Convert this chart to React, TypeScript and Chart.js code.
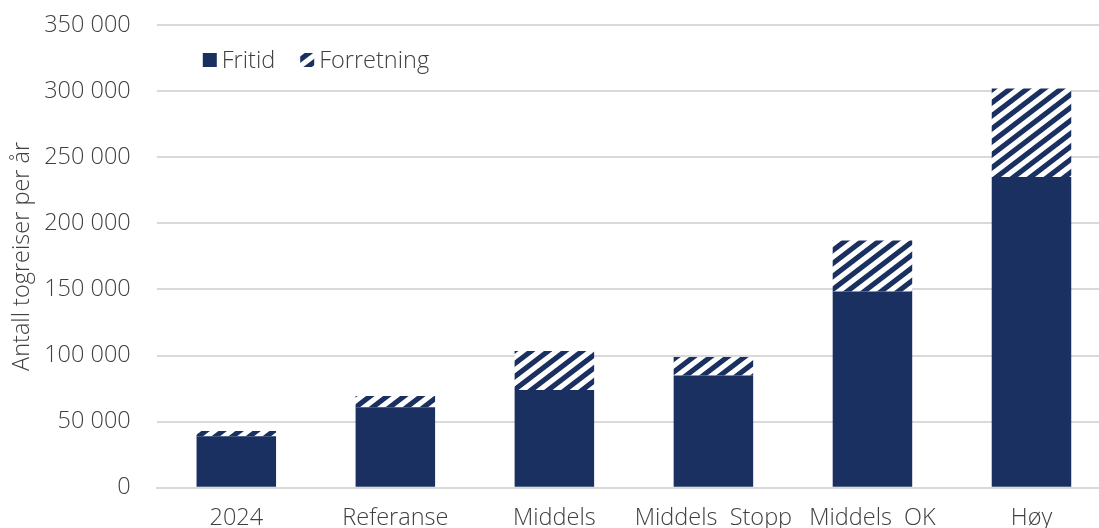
import React, { useEffect, useRef } from "react";
import { Chart, registerables } from "chart.js";

Chart.register(...registerables);

const categories = ["2024", "Referanse", "Middels", "Middels  Stopp", "Middels  OK", "Høy"];
const fritid = [39000, 61000, 74000, 85000, 148500, 235000];
const forretning = [4000, 8500, 29500, 14000, 38500, 67000];
const seriesNames = ["Fritid", "Forretning"];
const yTicks = [0, 50000, 100000, 150000, 200000, 250000, 300000, 350000];

const NAVY = "#1a3060";
const NAVY_RGB = [26, 48, 96];
const TEXT = "#404040";
const FONT = "'Open Sans', 'DejaVu Sans', sans-serif";
const FS = 23.5;

function makeHatch(): CanvasPattern | string {
  const W = 17;
  const H = 13;
  const c = document.createElement("canvas");
  c.width = W;
  c.height = H;
  const ctx = c.getContext("2d");
  if (!ctx) return NAVY;
  const img = ctx.createImageData(W, H);
  const S = 4;
  for (let y = 0; y < H; y++) {
    for (let x = 0; x < W; x++) {
      let cov = 0;
      for (let sy = 0; sy < S; sy++) {
        for (let sx = 0; sx < S; sx++) {
          const px = x + (sx + 0.5) / S;
          const py = y + (sy + 0.5) / S;
          let t = px / W + py / H;
          t = t - Math.floor(t);
          if (t < 0.5) cov++;
        }
      }
      const a = cov / (S * S);
      const i = (y * W + x) * 4;
      img.data[i] = Math.round(255 * (1 - a) + NAVY_RGB[0] * a);
      img.data[i + 1] = Math.round(255 * (1 - a) + NAVY_RGB[1] * a);
      img.data[i + 2] = Math.round(255 * (1 - a) + NAVY_RGB[2] * a);
      img.data[i + 3] = 255;
    }
  }
  ctx.putImageData(img, 0, 0);
  const p = ctx.createPattern(c, "repeat");
  return p || NAVY;
}

const fmt = (v: number) => String(v).replace(/\B(?=(\d{3})+(?!\d))/g, " ");

export default function App() {
  const ref = useRef<HTMLCanvasElement>(null);
  useEffect(() => {
    document.body.style.margin = "0";
    if (!ref.current) return;
    const hatch = makeHatch();
    const legendPlugin = {
      id: "insideLegend",
      afterDraw(chart: any) {
        const { ctx, chartArea } = chart;
        ctx.save();
        ctx.font = `300 ${FS}px ${FONT}`;
        ctx.textBaseline = "middle";
        ctx.textAlign = "left";
        const cy = chartArea.top + 35;
        let x = chartArea.left + 46;
        const fills = [NAVY, hatch];
        seriesNames.forEach((name, i) => {
          ctx.fillStyle = fills[i];
          ctx.fillRect(x, cy - 7, 14, 14);
          ctx.fillStyle = TEXT;
          ctx.fillText(name, x + 19, cy + 1);
          x += 19 + ctx.measureText(name).width + 25;
        });
        ctx.restore();
      },
    };
    const chart = new Chart(ref.current, {
      type: "bar",
      data: {
        labels: categories,
        datasets: [
          {
            label: seriesNames[0],
            data: fritid,
            backgroundColor: NAVY,
            borderWidth: 0,
            categoryPercentage: 1,
            barPercentage: 0.5,
          },
          {
            label: seriesNames[1],
            data: forretning,
            backgroundColor: hatch as any,
            borderWidth: 0,
            categoryPercentage: 1,
            barPercentage: 0.5,
          },
        ],
      },
      options: {
        animation: false,
        responsive: true,
        maintainAspectRatio: false,
        layout: { padding: { top: 25, right: 4, bottom: 0, left: 6 } },
        plugins: {
          legend: { display: false },
          tooltip: { enabled: false },
        },
        scales: {
          x: {
            stacked: true,
            grid: { display: false, drawTicks: true, tickLength: 16 },
            border: { display: true, color: "#d9d9d9", width: 2 },
            ticks: {
              color: TEXT,
              font: { family: FONT, size: FS, weight: 300 as any },
              padding: 0,
              maxRotation: 0,
              autoSkip: false,
            },
          },
          y: {
            stacked: true,
            min: 0,
            max: 350000,
            afterBuildTicks: (axis: any) => {
              axis.ticks = yTicks.map((v) => ({ value: v }));
            },
            grid: {
              color: "#d9d9d9",
              lineWidth: 2,
              drawTicks: true,
              tickLength: 26,
              tickColor: "rgba(0,0,0,0)",
            },
            border: { display: false },
            ticks: {
              color: TEXT,
              font: { family: FONT, size: FS, weight: 300 as any },
              padding: 0,
              callback: (v: any) => fmt(Number(v)),
            },
            title: {
              display: true,
              text: "Antall togreiser per år",
              color: TEXT,
              font: { family: FONT, size: FS, weight: 300 as any },
              padding: { top: 2, bottom: 8 },
            },
          },
        },
      },
      plugins: [legendPlugin],
    });
    return () => chart.destroy();
  }, []);
  return (
    <div style={{ width: 1099, height: 528, overflow: "hidden", position: "relative" }}>
      <div style={{ width: 1115, height: 532, position: "absolute", left: 0, top: 0 }}>
        <canvas ref={ref} />
      </div>
    </div>
  );
}
